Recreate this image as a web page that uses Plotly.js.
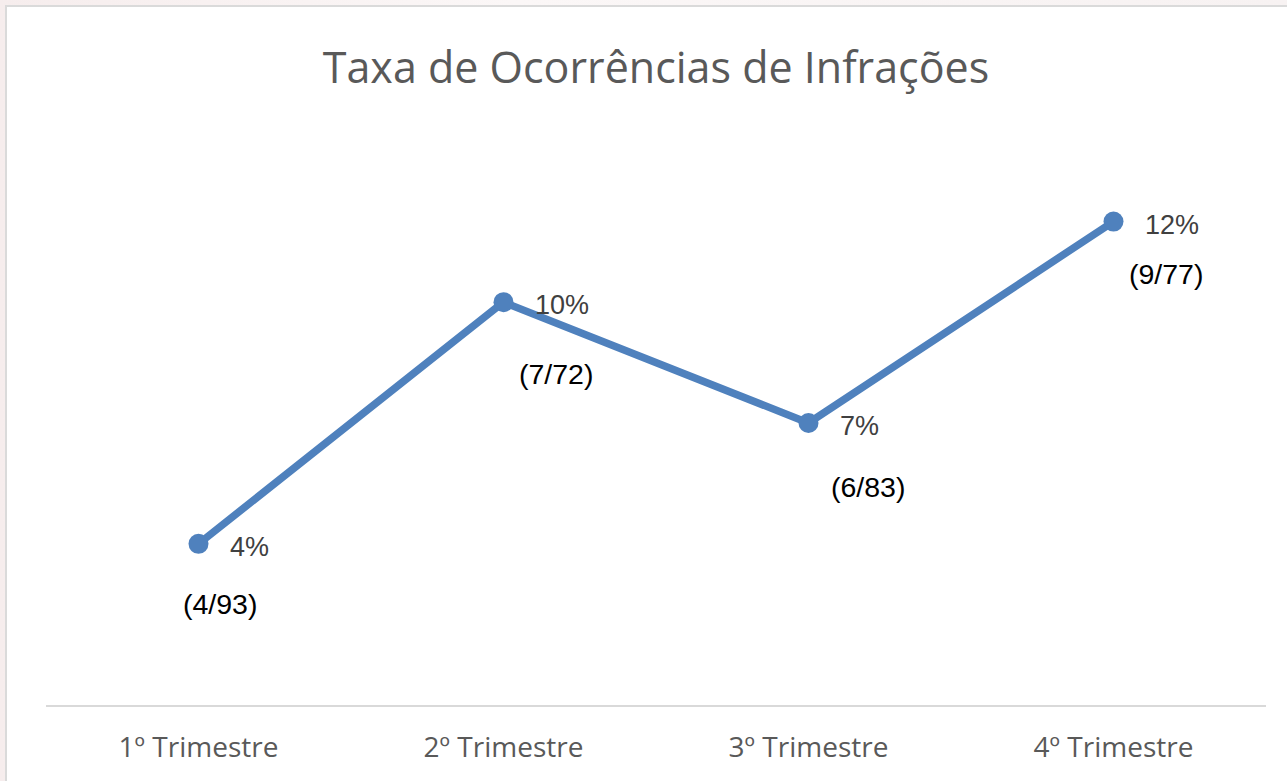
<!DOCTYPE html>
<html>
<head>
<meta charset="utf-8">
<script src="https://cdn.plot.ly/plotly-3.0.1.min.js"></script>
<style>
  html, body { margin: 0; padding: 0; width: 1287px; height: 781px; overflow: hidden;
    background: linear-gradient(90deg, #f6eded 0%, #fbf7f7 40%, #f7f2f2 100%); }
  #chart { position: absolute; left: 5px; top: 5px; width: 1282px; height: 776px;
    border-left: 2px solid #dadada; border-top: 2px solid #dadada; background: #fff; }
</style>
</head>
<body>
<div id="chart"></div>
<script>
// Data
const categories = ["1º Trimestre", "2º Trimestre", "3º Trimestre", "4º Trimestre"];
const rates = [4, 10, 7, 12];            // percent
const occurrences = [4, 7, 6, 9];
const totals = [93, 72, 83, 77];

// Label placement (pixel offsets of the ratio labels from each point)
const ratioOffsetX = [21, 52, 59, 52];
const ratioOffsetY = [-60, -72, -64, -52];

const blue = "#4F81BD";

const trace = {
  x: categories,
  y: rates,
  type: "scatter",
  mode: "lines+markers",
  line: { color: blue, width: 7.5 },
  marker: { color: blue, size: 20 },
  hoverinfo: "skip",
  cliponaxis: false
};

const annotations = [];
categories.forEach((c, i) => {
  annotations.push({
    x: c, y: rates[i], xref: "x", yref: "y",
    text: rates[i] + "%",
    showarrow: false, xanchor: "left", yanchor: "middle",
    xshift: 29, yshift: -3,
    font: { family: "Liberation Sans, Arial, sans-serif", size: 27, color: "#404040" }
  });
  annotations.push({
    x: c, y: rates[i], xref: "x", yref: "y",
    text: "(" + occurrences[i] + "/" + totals[i] + ")",
    showarrow: false, xanchor: "center", yanchor: "middle",
    xshift: ratioOffsetX[i], yshift: ratioOffsetY[i],
    font: { family: "Liberation Sans, Arial, sans-serif", size: 28.5, color: "#000000" }
  });
});

const layout = {
  width: 1282, height: 776,
  margin: { l: 38.6, r: 22.6, t: 134, b: 78, pad: 0 },
  paper_bgcolor: "#ffffff",
  plot_bgcolor: "#ffffff",
  showlegend: false,
  title: {
    text: "Taxa de Ocorrências de Infrações",
    font: { family: "Open Sans, sans-serif", size: 43, color: "#595959" },
    x: 0.5, xref: "paper", xanchor: "center",
    y: 0.922, yref: "container", yanchor: "middle"
  },
  xaxis: {
    type: "category",
    range: [-0.5, 3.5],
    showgrid: false, zeroline: false,
    showline: true, linecolor: "#d9d9d9", linewidth: 2,
    ticks: "", ticklabelstandoff: 16,
    tickfont: { family: "Open Sans, sans-serif", size: 28, color: "#595959" },
    fixedrange: true
  },
  yaxis: {
    range: [0, 14],
    visible: false,
    showgrid: false, zeroline: false,
    fixedrange: true
  },
  annotations: annotations
};

Plotly.newPlot("chart", [trace], layout, { displayModeBar: false, staticPlot: true });
</script>
</body>
</html>
